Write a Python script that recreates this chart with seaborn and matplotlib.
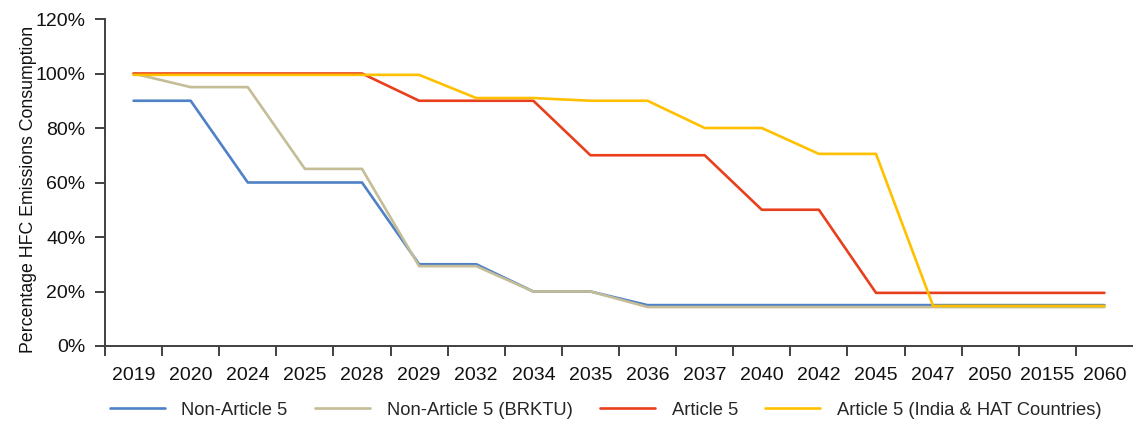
import matplotlib
matplotlib.use("Agg")
import matplotlib.pyplot as plt
from matplotlib.ticker import FixedLocator, PercentFormatter
import seaborn as sns
import pandas as pd

# Phase-down schedule categories (as labelled on the axis)
periods = ["2019", "2020", "2024", "2025", "2028", "2029", "2032", "2034", "2035",
           "2036", "2037", "2040", "2042", "2045", "2047", "2050", "20155", "2060"]

# Percentage of baseline HFC consumption for each group
non_article5 = [90, 90, 60, 60, 60, 30, 30, 20, 20, 15, 15, 15, 15, 15, 15, 15, 15, 15]
non_article5_brktu = [100, 95, 95, 65, 65, 29.3, 29.3, 20, 20, 14.3, 14.3, 14.3, 14.3,
                      14.3, 14.3, 14.3, 14.3, 14.3]
article5 = [100, 100, 100, 100, 100, 90, 90, 90, 70, 70, 70, 50, 50, 19.5, 19.5, 19.5,
            19.5, 19.5]
article5_india_hat = [99.5, 99.5, 99.5, 99.5, 99.5, 99.5, 91, 91, 90, 90, 80, 80, 70.5,
                      70.5, 14.7, 14.7, 14.7, 14.7]

series_names = ["Non-Article 5", "Non-Article 5 (BRKTU)", "Article 5",
                "Article 5 (India & HAT Countries)"]
series_values = [non_article5, non_article5_brktu, article5, article5_india_hat]
colors = ["#4F81C6", "#C4BD97", "#E8401C", "#FFC000"]

df = pd.concat(
    [pd.DataFrame({"period": periods, "value": vals, "series": name})
     for name, vals in zip(series_names, series_values)],
    ignore_index=True,
)

sns.set_theme(style="white")
plt.rcParams["font.family"] = ["Liberation Sans", "DejaVu Sans"]

fig = plt.figure(figsize=(11.33, 4.23), dpi=100)
ax = fig.add_axes([105 / 1133, 1 - 346 / 423, 1 - 105 / 1133, (346 - 19) / 423])

sns.lineplot(data=df, x="period", y="value", hue="series", hue_order=series_names,
             palette=colors, sort=False, linewidth=1.9, ax=ax, legend=True)

n = len(periods)
ax.set_xlim(-0.5, n - 0.5)
ax.set_ylim(0, 120)
ax.yaxis.set_major_locator(FixedLocator(range(0, 121, 20)))
ax.yaxis.set_major_formatter(PercentFormatter(decimals=0))

# category labels centred, tick marks on the category boundaries
ax.set_xticks(range(n))
ax.set_xticklabels(periods)
ax.set_xticks([i - 0.5 for i in range(n)], minor=True)
ax.tick_params(axis="x", which="major", length=0, pad=15, labelsize=14, colors="#111111")
ax.tick_params(axis="x", which="minor", length=7, width=1.4, color="#404040",
               direction="out", bottom=True)
ax.tick_params(axis="y", which="major", length=7, width=1.4, color="#404040",
               direction="out", left=True, labelsize=14, pad=7, labelcolor="#111111")

for side in ("top", "right"):
    ax.spines[side].set_visible(False)
for side in ("left", "bottom"):
    ax.spines[side].set_color("#404040")
    ax.spines[side].set_linewidth(1.4)

ax.set_xlabel("")
ax.set_ylabel("Percentage HFC Emissions Consumption", fontsize=12.8, color="#111111")
ax.yaxis.set_label_coords(-(105 - 37) / 1028, 0.48)
ax.grid(False)

handles, labels = ax.get_legend_handles_labels()
ax.legend(handles, labels, loc="center", bbox_to_anchor=(0.487, -0.196),
          ncol=4, frameon=False, fontsize=13.2, handlelength=3.0, handletextpad=0.9,
          columnspacing=1.5, borderaxespad=0)
for line in ax.get_legend().get_lines():
    line.set_linewidth(1.9)

fig.savefig("out.png", dpi=100)
